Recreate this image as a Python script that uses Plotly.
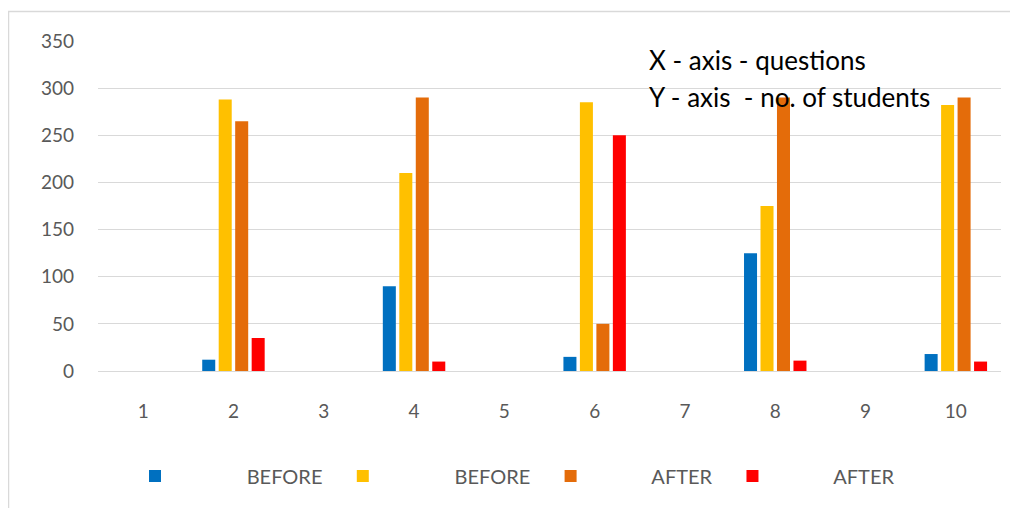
import plotly.graph_objects as go

categories = ["1", "2", "3", "4", "5", "6", "7", "8", "9", "10"]
before_1 = [None, 12, None, 90, None, 15, None, 125, None, 18]
before_2 = [None, 288, None, 210, None, 285, None, 175, None, 282]
after_1 = [None, 265, None, 290, None, 50, None, 290, None, 290]
after_2 = [None, 35, None, 10, None, 250, None, 11, None, 10]
y_ticks = [0, 50, 100, 150, 200, 250, 300, 350]

NB = "\u00a0"
series = [
    (NB * 14 + "BEFORE" + NB * 3, before_1, "#0070C0"),
    (NB * 14 + "BEFORE" + NB * 3, before_2, "#FFC000"),
    (NB * 12 + "AFTER" + NB * 3, after_1, "#E46C0A"),
    (NB * 12 + "AFTER", after_2, "#FF0000"),
]

FONT = "Lato, 'Open Sans', sans-serif"

# The page body adds an 8px offset, so margins are shifted to compensate.
L, T, PW, PH = 90, 33, 903, 330

fig = go.Figure()
for name, vals, color in series:
    fig.add_trace(go.Bar(x=categories, y=vals, name=name,
                         marker=dict(color=color, line=dict(width=0))))

fig.update_layout(
    width=1018, height=508,
    margin=dict(l=L, r=1018 - L - PW, t=T, b=508 - T - PH, autoexpand=False),
    paper_bgcolor="white", plot_bgcolor="white",
    barmode="group", bargap=0.27, bargroupgap=0.21,
    font=dict(family=FONT, color="#595959", size=19),
    showlegend=True,
    legend=dict(orientation="h", x=(135 - 98) / 903, xanchor="left",
                y=(371 - 476) / 330, yanchor="middle",
                font=dict(family=FONT, size=20, color="#595959"),
                bgcolor="rgba(0,0,0,0)", itemclick=False),
    xaxis=dict(type="category", showgrid=False, showline=False, zeroline=False,
               ticks="", ticklabelstandoff=27,
               tickfont=dict(family=FONT, size=19, color="#595959")),
    yaxis=dict(range=[0, 350], tickvals=y_ticks, showgrid=True, gridcolor="#D9D9D9",
               gridwidth=1.3, zeroline=True, zerolinecolor="#D9D9D9", zerolinewidth=1.3,
               showline=False, ticks="", ticklabelstandoff=23,
               tickfont=dict(family=FONT, size=19, color="#595959")),
    shapes=[dict(type="rect", xref="paper", yref="paper",
                 x0=(8.5 - 98) / 903, x1=(1030 - 98) / 903,
                 y0=(371 - 530) / 330, y1=(371 - 11.5) / 330,
                 line=dict(color="#D9D9D9", width=1.5), fillcolor="rgba(0,0,0,0)",
                 layer="below")],
    annotations=[
        dict(text="X - axis - questions", xref="paper", yref="paper",
             x=(647 - 98) / 903, y=(371 - 60) / 330, xanchor="left", yanchor="middle",
             showarrow=False, font=dict(family=FONT, size=26, color="black")),
        dict(text="Y - axis  - no. of students", xref="paper", yref="paper",
             x=(647 - 98) / 903, y=(371 - 97) / 330, xanchor="left", yanchor="middle",
             showarrow=False, font=dict(family=FONT, size=26, color="black")),
    ],
)

fig.write_html("out.html")
